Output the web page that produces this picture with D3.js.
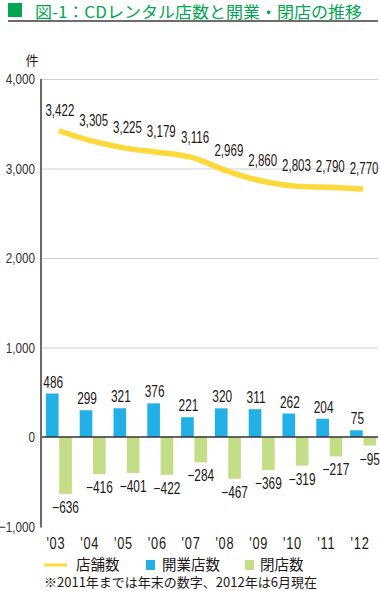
<!DOCTYPE html>
<html lang="ja">
<head>
    <meta charset="UTF-8">
    <title>CDレンタル店数と開業・閉店の推移</title>
    <script src="https://cdn.jsdelivr.net/npm/d3@7"></script>
    <style>
        html, body {
            margin: 0;
            background: #fff;
        }
        svg text {
            font-family: "Liberation Sans", "Noto Sans CJK JP", sans-serif;
            fill: #231815;
        }
        .jp {
            font-family: "Noto Sans CJK JP", sans-serif;
        }
    </style>
</head>
<body>
    <div id="vis"></div>
    <script>
        // data
        var years = ["'03", "'04", "'05", "'06", "'07", "'08", "'09", "'10", "'11", "'12"];
        var stores = [3422, 3305, 3225, 3179, 3116, 2969, 2860, 2803, 2790, 2770];
        var openings = [486, 299, 321, 376, 221, 320, 311, 262, 204, 75];
        var closings = [-636, -416, -401, -422, -284, -467, -369, -319, -217, -95];
        var yTicks = [-1000, 0, 1000, 2000, 3000, 4000];

        var width = 380, height = 591;
        var yellow = '#ffd83b', blue = '#22b0e6', green = '#c4de88', titleGreen = '#00a650';

        var svg = d3.select('#vis')
            .append('svg')
                .attr('width', width)
                .attr('height', height);

        var x = d3.scaleBand()
            .domain(years)
            .range([42, 380]);

        var sub = d3.scaleBand()
            .domain(['open', 'close'])
            .range([-13, 13])
            .paddingInner(0.05);

        var y = d3.scaleLinear()
            .domain([-1000, 4000])
            .range([526.5, 79]);

        var cx = function(i){ return x(years[i]) + x.bandwidth() / 2; };
        var fmt = d3.format(',');

        // condensed text helper
        function ctext(g, tx, ty, str, size, sx, anchor){
            return g.append('text')
                .attr('transform', 'translate(' + tx + ',' + ty + ') scale(' + sx + ',1)')
                .attr('text-anchor', anchor || 'middle')
                .style('font-size', size + 'px')
                .text(str);
        }

        // title
        svg.append('rect')
            .attr('x', 8).attr('y', 3)
            .attr('width', 14).attr('height', 14)
            .attr('fill', titleGreen);
        svg.append('text')
            .attr('class', 'jp')
            .attr('x', 35).attr('y', 18.3)
            .attr('textLength', 327)
            .attr('lengthAdjust', 'spacingAndGlyphs')
            .style('font-size', '16px')
            .style('fill', titleGreen)
            .text('図-1：CDレンタル店数と開業・閉店の推移');
        svg.append('line')
            .attr('x1', 8).attr('x2', 378)
            .attr('y1', 21).attr('y2', 21)
            .attr('stroke', '#6d6d6d')
            .attr('stroke-width', 2);

        // gridlines
        var grid = svg.append('g')
            .attr('transform', 'translate(41,0)')
            .call(d3.axisLeft(y).tickValues([1000, 2000, 3000, 4000]).tickSize(-337).tickFormat(''));
        grid.select('.domain').remove();
        grid.selectAll('line').attr('stroke', '#d0d0d0').attr('stroke-width', 1);

        // y tick labels
        var yl = svg.append('g');
        yTicks.forEach(function(v){
            ctext(yl, 35, y(v) + 5, fmt(v), 15, 0.78, 'end')
                .style('fill', '#333');
        });
        ctext(yl, 32, 65, '件', 13, 1, 'middle').attr('class', 'jp');

        // bars
        svg.selectAll('.open')
            .data(openings)
            .enter()
            .append('rect')
            .attr('class', 'open')
            .attr('x', function(d, i){ return cx(i) + sub('open'); })
            .attr('width', sub.bandwidth())
            .attr('y', function(d){ return y(d); })
            .attr('height', function(d){ return y(0) - y(d); })
            .attr('fill', blue);

        svg.selectAll('.close')
            .data(closings)
            .enter()
            .append('rect')
            .attr('class', 'close')
            .attr('x', function(d, i){ return cx(i) + sub('close'); })
            .attr('width', sub.bandwidth())
            .attr('y', y(0))
            .attr('height', function(d){ return y(d) - y(0); })
            .attr('fill', green);

        // zero line
        svg.append('line')
            .attr('x1', 41).attr('x2', 378)
            .attr('y1', y(0)).attr('y2', y(0))
            .attr('stroke', '#333')
            .attr('stroke-width', 1.5);

        // y axis line
        svg.append('line')
            .attr('x1', 41).attr('x2', 41)
            .attr('y1', y(4000)).attr('y2', y(-1000) + 1)
            .attr('stroke', '#6a6a6a')
            .attr('stroke-width', 2);

        // store count line
        var line = d3.line()
            .x(function(d, i){ return cx(i); })
            .y(function(d){ return y(d); })
            .curve(d3.curveMonotoneX);

        svg.append('path')
            .datum(stores)
            .attr('d', line)
            .attr('fill', 'none')
            .attr('stroke', yellow)
            .attr('stroke-width', 5.5);

        // labels
        var labels = svg.append('g');
        stores.forEach(function(v, i){
            ctext(labels, cx(i) + 1, y(v) - 15, fmt(v), 16.5, 0.7);
        });
        openings.forEach(function(v, i){
            ctext(labels, cx(i) + sub('open') + sub.bandwidth() / 2 + 1, y(v) - 6, v, 16.5, 0.72);
        });
        closings.forEach(function(v, i){
            ctext(labels, cx(i) + sub('close') + sub.bandwidth() / 2, y(v) + 19, '−' + Math.abs(v), 16.5, 0.72);
        });

        // x labels
        years.forEach(function(v, i){
            ctext(labels, cx(i) - 3, 549, v, 16, 0.8).style('letter-spacing', '1px');
        });

        // legend
        var lg = svg.append('g');
        lg.append('line')
            .attr('x1', 44).attr('x2', 67)
            .attr('y1', 565).attr('y2', 565)
            .attr('stroke', yellow)
            .attr('stroke-width', 3);
        lg.append('text').attr('class', 'jp')
            .attr('x', 76).attr('y', 570)
            .style('font-size', '14.5px')
            .text('店舗数');
        lg.append('rect')
            .attr('x', 146).attr('y', 560)
            .attr('width', 9).attr('height', 10)
            .attr('fill', blue);
        lg.append('text').attr('class', 'jp')
            .attr('x', 162).attr('y', 570)
            .style('font-size', '14.5px')
            .text('開業店数');
        lg.append('rect')
            .attr('x', 245).attr('y', 560)
            .attr('width', 9).attr('height', 10)
            .attr('fill', green);
        lg.append('text').attr('class', 'jp')
            .attr('x', 260).attr('y', 570)
            .style('font-size', '14.5px')
            .text('閉店数');

        svg.append('text').attr('class', 'jp')
            .attr('x', 44).attr('y', 587)
            .style('font-size', '13px')
            .text('※2011年までは年末の数字、2012年は6月現在');
    </script>
</body>
</html>
